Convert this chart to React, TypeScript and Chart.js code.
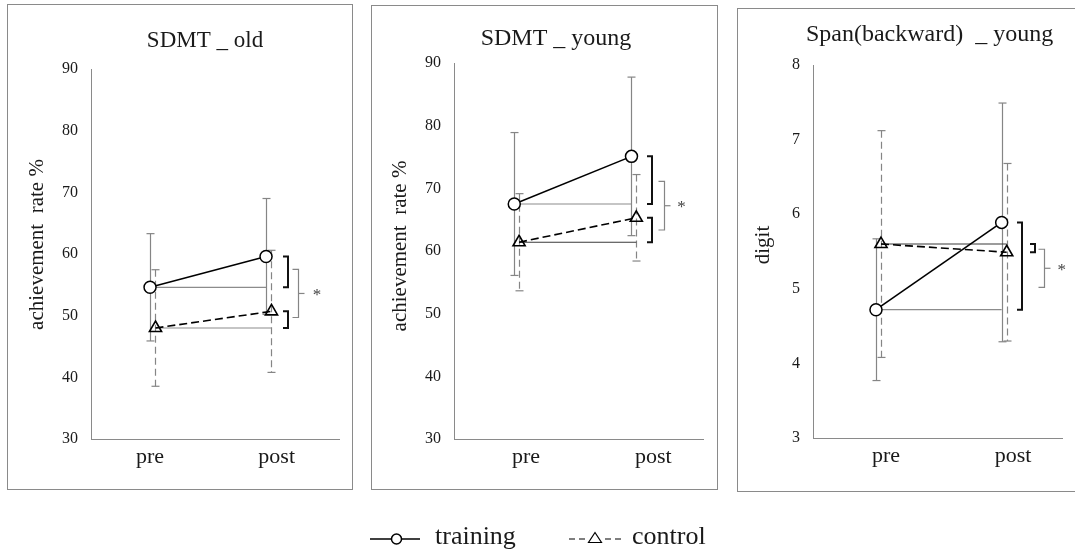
import React, { useEffect, useRef } from 'react';
import { Chart, registerables } from 'chart.js';

Chart.register(...registerables);

const SERIF = '"Liberation Serif", "Times New Roman", Times, serif';

// ---------------- data ----------------
const categories = ['pre', 'post'];
const seriesNames = ['training', 'control'];
const panelTitles = ['SDMT _ old', 'SDMT _ young', 'Span(backward)  _ young'];
const yTitles = ['achievement  rate %', 'achievement  rate %', 'digit'];

const sdmtTicks = [30, 40, 50, 60, 70, 80, 90];
const spanTicks = [3, 4, 5, 6, 7, 8];

// SDMT _ old
const oldTrainingMean = [54.6, 59.6];
const oldTrainingSD = [8.7, 9.4];
const oldControlMean = [48.0, 50.7];
const oldControlSD = [9.45, 9.9];
const oldBrace = [57.5, 49.7];

// SDMT _ young
const youngTrainingMean = [67.5, 75.1];
const youngTrainingSD = [11.4, 12.65];
const youngControlMean = [61.4, 65.3];
const youngControlSD = [7.75, 6.9];
const youngBrace = [71.1, 63.35];

// Span(backward) _ young
const spanTrainingMean = [4.72, 5.89];
const spanTrainingSD = [0.95, 1.6];
const spanControlMean = [5.6, 5.49];
const spanControlSD = [1.52, 1.19];
const spanBrace = [5.53, 5.02];

const panelData = [
  { tm: oldTrainingMean, ts: oldTrainingSD, cm: oldControlMean, cs: oldControlSD, brace: oldBrace, ticks: sdmtTicks },
  { tm: youngTrainingMean, ts: youngTrainingSD, cm: youngControlMean, cs: youngControlSD, brace: youngBrace, ticks: sdmtTicks },
  { tm: spanTrainingMean, ts: spanTrainingSD, cm: spanControlMean, cs: spanControlSD, brace: spanBrace, ticks: spanTicks },
];

// ---------------- layout / style ----------------
const layouts = [
  {
    left: 7, top: 4, width: 346, height: 486,
    area: { left: 84, top: 65, right: 332, bottom: 435 },
    xRange: [-0.509, 1.629], labelAt: [0, 1.092], ctrlShift: 0.047,
    yTitleXY: [30.5, 240.5], titleXY: [198, 37], titleSize: 23,
    bracketOff: [22, 22], braceOff: 32, starOff: 51, ctrlBaseColor: '#8c8c8c',
  },
  {
    left: 371, top: 5, width: 347, height: 485,
    area: { left: 83, top: 58, right: 332, bottom: 434 },
    xRange: [-0.514, 1.61], labelAt: [0.1, 1.186], ctrlShift: 0.041,
    yTitleXY: [29, 241], titleXY: [185, 34], titleSize: 24,
    bracketOff: [21, 21], braceOff: 33, starOff: 50, ctrlBaseColor: '#3a3a3a',
  },
  {
    left: 737, top: 8, width: 345, height: 484,
    area: { left: 76, top: 57, right: 325, bottom: 430 },
    xRange: [-0.501, 1.48], labelAt: [0.08, 1.09], ctrlShift: 0.04,
    yTitleXY: [26, 237], titleXY: [192.6, 26.7], titleSize: 24,
    bracketOff: [20, 33], braceOff: 42, starOff: 60, ctrlBaseColor: '#3a3a3a',
  },
];

const AXIS_GRAY = '#8a8a8a';
const ERR_GRAY = '#858585';
const TEXT = '#1a1a1a';
const X_AXIS_H = 34;
const Y_TITLE_SIZE = 21;
const PAD_LEFT = 4;

function makePlugin(idx: number) {
  const L = layouts[idx];
  const D = panelData[idx];
  const seg = (ctx: CanvasRenderingContext2D, x1: number, y1: number, x2: number, y2: number) => {
    ctx.beginPath();
    ctx.moveTo(x1, y1);
    ctx.lineTo(x2, y2);
    ctx.stroke();
  };
  return {
    id: 'panelExtras' + idx,
    beforeDraw(chart: any) {
      const ctx = chart.ctx as CanvasRenderingContext2D;
      ctx.save();
      ctx.strokeStyle = AXIS_GRAY;
      ctx.lineWidth = 1;
      ctx.strokeRect(0.5, 0.5, chart.width - 1, chart.height - 1);
      ctx.fillStyle = TEXT;
      ctx.textAlign = 'center';
      ctx.textBaseline = 'middle';
      ctx.font = `${L.titleSize}px ${SERIF}`;
      ctx.fillText(panelTitles[idx], L.titleXY[0], L.titleXY[1]);
      // y axis title (rotated)
      ctx.translate(L.yTitleXY[0], L.yTitleXY[1]);
      ctx.rotate(-Math.PI / 2);
      ctx.font = `${Y_TITLE_SIZE}px ${SERIF}`;
      ctx.fillText(yTitles[idx], 0, 0);
      ctx.restore();
    },
    beforeDatasetsDraw(chart: any) {
      const ctx = chart.ctx as CanvasRenderingContext2D;
      const xs = chart.scales.x;
      const ys = chart.scales.y;
      ctx.save();
      ctx.strokeStyle = ERR_GRAY;
      ctx.lineWidth = 1.2;
      const drawErr = (xv: number, mean: number, sd: number, dash: number[]) => {
        const px = Math.round(xs.getPixelForValue(xv)) + 0.5;
        const top = ys.getPixelForValue(mean + sd);
        const bot = ys.getPixelForValue(mean - sd);
        ctx.setLineDash(dash);
        seg(ctx, px, top, px, bot);
        ctx.setLineDash([]);
        seg(ctx, px - 4, top, px + 4, top);
        seg(ctx, px - 4, bot, px + 4, bot);
      };
      categories.forEach((_, i) => {
        drawErr(i, D.tm[i], D.ts[i], []);
        drawErr(i + L.ctrlShift, D.cm[i], D.cs[i], [7, 4]);
      });
      ctx.restore();
    },
    afterDatasetsDraw(chart: any) {
      const ctx = chart.ctx as CanvasRenderingContext2D;
      const xs = chart.scales.x;
      const ys = chart.scales.y;
      const postPx = xs.getPixelForValue(1);
      ctx.save();
      // significance brackets (black)
      ctx.strokeStyle = '#111';
      ctx.lineWidth = 2;
      const bracket = (x: number, a: number, b: number) => {
        const y1 = ys.getPixelForValue(a);
        const y2 = ys.getPixelForValue(b);
        ctx.beginPath();
        ctx.moveTo(x - 5, y1);
        ctx.lineTo(x, y1);
        ctx.lineTo(x, y2);
        ctx.lineTo(x - 5, y2);
        ctx.stroke();
      };
      bracket(Math.round(postPx + L.bracketOff[0]), D.tm[0], D.tm[1]);
      bracket(Math.round(postPx + L.bracketOff[1]), D.cm[0], D.cm[1]);
      // brace (gray)
      ctx.strokeStyle = ERR_GRAY;
      ctx.lineWidth = 1.2;
      const bx = Math.round(postPx + L.braceOff) + 0.5;
      const yTop = ys.getPixelForValue(D.brace[0]);
      const yBot = ys.getPixelForValue(D.brace[1]);
      const yMid = (yTop + yBot) / 2;
      ctx.beginPath();
      ctx.moveTo(bx - 6, yTop);
      ctx.lineTo(bx, yTop);
      ctx.lineTo(bx, yBot);
      ctx.lineTo(bx - 6, yBot);
      ctx.stroke();
      seg(ctx, bx, yMid, bx + 6, yMid);
      ctx.fillStyle = '#444';
      ctx.font = `17px ${SERIF}`;
      ctx.textAlign = 'center';
      ctx.textBaseline = 'middle';
      ctx.fillText('*', postPx + L.starOff, yMid + 2);
      ctx.restore();
    },
  };
}

function makeConfig(idx: number): any {
  const L = layouts[idx];
  const D = panelData[idx];
  const yAxisW = L.area.left - PAD_LEFT;
  return {
    type: 'line',
    data: {
      datasets: [
        {
          label: seriesNames[0],
          data: D.tm.map((v, i) => ({ x: i, y: v })),
          borderColor: '#000',
          borderWidth: 1.6,
          pointStyle: 'circle',
          pointRadius: 6,
          pointBackgroundColor: '#fff',
          pointBorderColor: '#000',
          pointBorderWidth: 1.5,
          fill: false,
          order: 0,
        },
        {
          label: seriesNames[1],
          data: D.cm.map((v, i) => ({ x: i + L.ctrlShift, y: v })),
          borderColor: '#000',
          borderWidth: 1.6,
          borderDash: [8, 4],
          pointStyle: 'triangle',
          pointRadius: 7,
          pointBackgroundColor: 'rgba(255,255,255,0)',
          pointBorderColor: '#000',
          pointBorderWidth: 1.6,
          fill: false,
          order: 1,
        },
        {
          label: seriesNames[0] + ' pre level',
          data: [{ x: 0, y: D.tm[0] }, { x: 1, y: D.tm[0] }],
          borderColor: '#8c8c8c',
          borderWidth: 1.2,
          pointRadius: 0,
          fill: false,
          order: 2,
        },
        {
          label: seriesNames[1] + ' pre level',
          data: [{ x: L.ctrlShift, y: D.cm[0] }, { x: 1 + L.ctrlShift, y: D.cm[0] }],
          borderColor: L.ctrlBaseColor,
          borderWidth: 1.1,
          pointRadius: 0,
          fill: false,
          order: 2,
        },
      ],
    },
    options: {
      responsive: false,
      animation: false,
      devicePixelRatio: 1,
      events: [],
      layout: {
        padding: {
          left: PAD_LEFT,
          top: L.area.top,
          right: L.width - L.area.right,
          bottom: L.height - L.area.bottom - X_AXIS_H,
        },
      },
      plugins: {
        legend: { display: false },
        tooltip: { enabled: false },
        title: { display: false },
      },
      scales: {
        x: {
          type: 'linear',
          min: L.xRange[0],
          max: L.xRange[1],
          grid: { display: false, drawTicks: false },
          border: { display: true, color: AXIS_GRAY, width: 1 },
          ticks: {
            autoSkip: false,
            maxRotation: 0,
            padding: 5,
            color: TEXT,
            font: { family: SERIF, size: 22 },
            callback: (_v: any, i: number) => categories[i],
          },
          afterBuildTicks: (s: any) => {
            s.ticks = L.labelAt.map((v) => ({ value: v }));
          },
          afterFit: (s: any) => {
            s.height = X_AXIS_H;
          },
        },
        y: {
          type: 'linear',
          min: D.ticks[0],
          max: D.ticks[D.ticks.length - 1],
          grid: { display: false, drawTicks: false },
          border: { display: true, color: AXIS_GRAY, width: 1 },
          ticks: {
            padding: 13,
            color: TEXT,
            font: { family: SERIF, size: 16 },
          },
          afterBuildTicks: (s: any) => {
            s.ticks = D.ticks.map((v) => ({ value: v }));
          },
          afterFit: (s: any) => {
            s.width = yAxisW;
          },
          title: { display: false },
        },
      },
    },
    plugins: [makePlugin(idx)],
  };
}

function Panel({ idx }: { idx: number }) {
  const ref = useRef<HTMLCanvasElement>(null);
  const L = layouts[idx];
  useEffect(() => {
    const chart = new Chart(ref.current as HTMLCanvasElement, makeConfig(idx));
    return () => chart.destroy();
  }, [idx]);
  return (
    <canvas
      ref={ref}
      width={L.width}
      height={L.height}
      style={{ position: 'absolute', left: L.left, top: L.top, width: L.width, height: L.height }}
    />
  );
}

function Legend() {
  return (
    <svg
      width={1075}
      height={60}
      style={{ position: 'absolute', left: 0, top: 491 }}
      viewBox="0 491 1075 60"
    >
      <line x1={370} y1={539} x2={391} y2={539} stroke="#000" strokeWidth={1.5} />
      <circle cx={396.5} cy={539} r={5} fill="#fff" stroke="#000" strokeWidth={1.5} />
      <line x1={402} y1={539} x2={420} y2={539} stroke="#000" strokeWidth={1.5} />
      <text x={435} y={544} fontFamily={SERIF} fontSize={26} fill={TEXT}>
        {seriesNames[0]}
      </text>
      <line x1={569} y1={539} x2={587} y2={539} stroke="#000" strokeWidth={1.2} strokeDasharray="6 4" />
      <polygon points="588.5,542.5 601.5,542.5 595,532.5" fill="none" stroke="#000" strokeWidth={1.2} />
      <line x1={605} y1={539} x2={623} y2={539} stroke="#000" strokeWidth={1.2} strokeDasharray="6 4" />
      <text x={632} y={544} fontFamily={SERIF} fontSize={26} fill={TEXT}>
        {seriesNames[1]}
      </text>
    </svg>
  );
}

export default function App() {
  return (
    <div
      style={{
        position: 'absolute',
        left: 0,
        top: 0,
        width: 1075,
        height: 551,
        overflow: 'hidden',
        background: '#fff',
      }}
    >
      {layouts.map((_, i) => (
        <Panel key={i} idx={i} />
      ))}
      <Legend />
    </div>
  );
}
